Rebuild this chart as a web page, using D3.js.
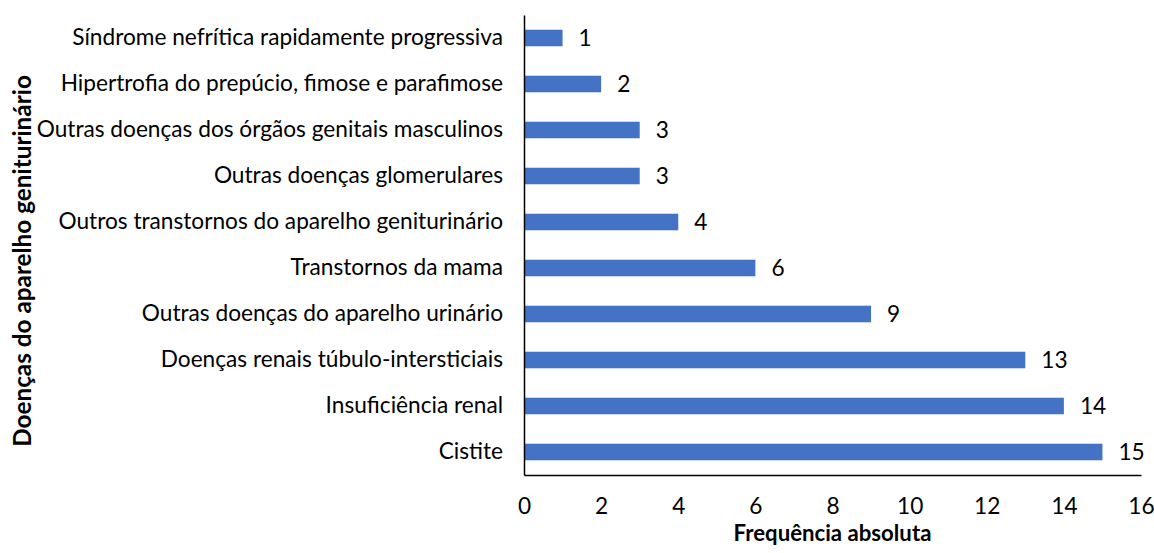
<!DOCTYPE html>
<html>
<head>
<meta charset="utf-8">
<script src="https://cdn.jsdelivr.net/npm/d3@7"></script>
<style>
  html, body { margin: 0; padding: 0; background: #fff; }
  svg { display: block; }
  text { font-family: Lato, "Open Sans", sans-serif; fill: #000; }
</style>
</head>
<body>
<svg id="chart" width="1154" height="553"></svg>
<script>
const categories = [
  "Síndrome nefrítica rapidamente progressiva",
  "Hipertrofia do prepúcio, fimose e parafimose",
  "Outras doenças dos órgãos genitais masculinos",
  "Outras doenças glomerulares",
  "Outros transtornos do aparelho geniturinário",
  "Transtornos da mama",
  "Outras doenças do aparelho urinário",
  "Doenças renais túbulo-intersticiais",
  "Insuficiência renal",
  "Cistite"
];
const values = [1, 2, 3, 3, 4, 6, 9, 13, 14, 15];
const xTicks = [0, 2, 4, 6, 8, 10, 12, 14, 16];
const xTitle = "Frequência absoluta";
const yTitle = "Doenças do aparelho geniturinário";

const FONT = "Lato, 'Open Sans', sans-serif";
const svg = d3.select("#chart");
const mLeft = 524, mRight = 1141, mTop = 15, mBottom = 475;

// fit a font size so a text reaches a target width
function fitSize(str, target, weight) {
  const t = svg.append("text").attr("font-size", 20).attr("font-family", FONT)
    .attr("font-weight", weight || "normal").text(str);
  const w = t.node().getComputedTextLength();
  t.remove();
  return 20 * target / w;
}
const fs = fitSize(categories[0], 431);
const fsX = fitSize(xTitle, 198, "bold");
const fsY = fitSize(yTitle, 372, "bold");

const x = d3.scaleLinear().domain([0, 16]).range([mLeft, mRight]);
const y = d3.scaleBand().domain(categories).range([mTop, mBottom]).paddingInner(0.64).paddingOuter(0.32);

// bars
svg.append("g").selectAll("rect")
  .data(categories)
  .join("rect")
  .attr("x", x(0))
  .attr("y", d => y(d))
  .attr("width", (d, i) => x(values[i]) - x(0))
  .attr("height", y.bandwidth())
  .attr("fill", "#4472C4");

// value labels
svg.append("g").selectAll("text")
  .data(categories)
  .join("text")
  .attr("x", (d, i) => x(values[i]) + 16)
  .attr("y", d => y(d) + y.bandwidth() / 2)
  .attr("dy", "0.35em")
  .attr("font-size", fs)
  .text((d, i) => values[i]);

// y axis
const yAxis = svg.append("g")
  .attr("transform", `translate(${mLeft},0)`)
  .call(d3.axisLeft(y).tickSize(0).tickPadding(21));
yAxis.select(".domain").attr("stroke", "#000").attr("stroke-width", 1.5);
yAxis.selectAll(".tick text")
  .attr("font-size", fs)
  .attr("font-family", FONT)
  .attr("fill", "#000");

// x axis
const xAxis = svg.append("g")
  .attr("transform", `translate(0,${mBottom})`)
  .call(d3.axisBottom(x).tickValues(xTicks).tickSize(0).tickPadding(23));
xAxis.select(".domain").attr("stroke", "#000").attr("stroke-width", 1.5);
xAxis.selectAll(".tick text")
  .attr("font-size", fs)
  .attr("font-family", FONT)
  .attr("fill", "#000");

// axis titles
svg.append("text")
  .attr("x", (mLeft + mRight) / 2)
  .attr("y", 541)
  .attr("text-anchor", "middle")
  .attr("font-size", fsX)
  .attr("font-weight", "bold")
  .text(xTitle);

svg.append("text")
  .attr("transform", `translate(31,261) rotate(-90)`)
  .attr("text-anchor", "middle")
  .attr("font-size", fsY)
  .attr("font-weight", "bold")
  .text(yTitle);
</script>
</body>
</html>
